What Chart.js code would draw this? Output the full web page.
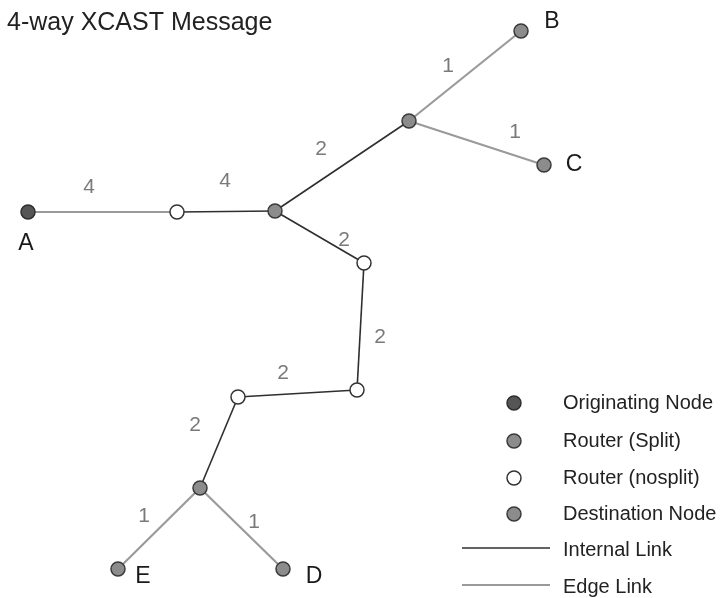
<!DOCTYPE html>
<html>
<head>
<meta charset="utf-8">
<script src="https://cdn.jsdelivr.net/npm/chart.js@4.4.1/dist/chart.umd.min.js"></script>
<style>
  html, body { margin: 0; padding: 0; background: #ffffff; }
  #wrap { width: 724px; height: 598px; }
</style>
</head>
<body>
<div id="wrap"><canvas id="c" width="724" height="598"></canvas></div>
<script>
// ---- Data ----
const titleText = '4-way XCAST Message';

// Nodes
const nodeIds   = ['A', 'R1', 'S1', 'S2', 'B', 'C', 'N2', 'N3', 'N4', 'S3', 'E', 'D'];
const nodeX     = [28, 177, 275, 409, 521, 544, 364, 357, 238, 200, 118, 283];
const nodeY     = [212, 212, 211, 121, 31, 165, 263, 390, 397, 488, 569, 569];
const nodeType  = ['orig', 'nosplit', 'split', 'split', 'dest', 'dest', 'nosplit', 'nosplit', 'nosplit', 'split', 'dest', 'dest'];

// Node name labels
const nodeLabels  = ['A', 'B', 'C', 'D', 'E'];
const nodeLabelX  = [26, 552, 574, 314, 143];
const nodeLabelY  = [244, 22, 165, 577, 577];

// Links
const linkFrom   = ['A', 'R1', 'S1', 'S2', 'S2', 'S1', 'N2', 'N3', 'N4', 'S3', 'S3'];
const linkTo     = ['R1', 'S1', 'S2', 'B', 'C', 'N2', 'N3', 'N4', 'S3', 'E', 'D'];
const linkType   = ['edge', 'internal', 'internal', 'edge', 'edge', 'internal', 'internal', 'internal', 'internal', 'edge', 'edge'];
const linkWeight = [4, 4, 2, 1, 1, 2, 2, 2, 2, 1, 1];
const weightX    = [89, 225, 321, 448, 515, 344, 380, 283, 195, 144, 254];
const weightY    = [187, 181, 149, 66, 132, 240, 337, 373, 425, 516, 522];

// Legend
const legendNodeTypes  = ['orig', 'split', 'nosplit', 'dest'];
const legendNodeLabels = ['Originating Node', 'Router (Split)', 'Router (nosplit)', 'Destination Node'];
const legendLinkTypes  = ['internal', 'edge'];
const legendLinkLabels = ['Internal Link', 'Edge Link'];

// ---- Styles ----
const FONT = '"Liberation Sans", Arial, Helvetica, sans-serif';
const nodeStyle = {
  orig:    { fill: '#555555', stroke: '#2e2e2e' },
  split:   { fill: '#8c8c8c', stroke: '#3a3a3a' },
  nosplit: { fill: '#ffffff', stroke: '#333333' },
  dest:    { fill: '#8c8c8c', stroke: '#3a3a3a' }
};
const linkStyle = {
  internal: { color: '#2f2f2f', width: 1.6 },
  edge:     { color: '#9a9a9a', width: 2.2 }
};

// ---- Build datasets ----
const idx = id => nodeIds.indexOf(id);
const datasets = [];

['orig', 'split', 'nosplit', 'dest'].forEach(t => {
  const pts = [];
  nodeIds.forEach((id, i) => { if (nodeType[i] === t) pts.push({ x: nodeX[i], y: nodeY[i] }); });
  datasets.push({
    type: 'scatter',
    label: t,
    data: pts,
    order: 0,
    pointRadius: 7,
    pointHoverRadius: 7,
    pointBackgroundColor: nodeStyle[t].fill,
    pointBorderColor: nodeStyle[t].stroke,
    pointBorderWidth: 1.5,
    showLine: false
  });
});

linkFrom.forEach((f, i) => {
  const a = idx(f), b = idx(linkTo[i]);
  datasets.push({
    type: 'scatter',
    label: 'link' + i,
    data: [{ x: nodeX[a], y: nodeY[a] }, { x: nodeX[b], y: nodeY[b] }],
    order: 1,
    showLine: true,
    borderColor: linkStyle[linkType[i]].color,
    borderWidth: linkStyle[linkType[i]].width,
    pointRadius: 0,
    pointHoverRadius: 0,
    fill: false
  });
});

// ---- Text & legend plugin ----
const textPlugin = {
  id: 'textPlugin',
  afterDraw(chart) {
    const ctx = chart.ctx;
    const xs = chart.scales.x, ys = chart.scales.y;
    ctx.save();
    // title
    ctx.fillStyle = '#222222';
    ctx.font = '25px ' + FONT;
    ctx.textAlign = 'left';
    ctx.textBaseline = 'middle';
    ctx.fillText(titleText, 7, 23);

    // weights
    ctx.fillStyle = '#7a7a7a';
    ctx.font = '21px ' + FONT;
    ctx.textAlign = 'center';
    linkWeight.forEach((w, i) => {
      ctx.fillText(String(w), xs.getPixelForValue(weightX[i]), ys.getPixelForValue(weightY[i]));
    });

    // node names
    ctx.fillStyle = '#1a1a1a';
    ctx.font = '23px ' + FONT;
    nodeLabels.forEach((l, i) => {
      ctx.fillText(l, xs.getPixelForValue(nodeLabelX[i]), ys.getPixelForValue(nodeLabelY[i]));
    });

    // legend
    const lx = 514, tx = 563;
    const rowY = [403, 441, 478, 514, 550, 587];
    ctx.font = '20px ' + FONT;
    ctx.textAlign = 'left';
    legendNodeTypes.forEach((t, i) => {
      ctx.beginPath();
      ctx.arc(lx, rowY[i], 7, 0, Math.PI * 2);
      ctx.fillStyle = nodeStyle[t].fill;
      ctx.fill();
      ctx.lineWidth = 1.5;
      ctx.strokeStyle = nodeStyle[t].stroke;
      ctx.stroke();
      ctx.fillStyle = '#222222';
      ctx.fillText(legendNodeLabels[i], tx, rowY[i]);
    });
    legendLinkTypes.forEach((t, j) => {
      const y = rowY[4 + j];
      ctx.beginPath();
      ctx.moveTo(462, y - 2);
      ctx.lineTo(550, y - 2);
      ctx.strokeStyle = linkStyle[t].color;
      ctx.lineWidth = linkStyle[t].width;
      ctx.stroke();
      ctx.fillStyle = '#222222';
      ctx.fillText(legendLinkLabels[j], tx, y);
    });
    ctx.restore();
  }
};

new Chart(document.getElementById('c'), {
  type: 'scatter',
  data: { datasets },
  options: {
    responsive: false,
    animation: false,
    devicePixelRatio: 1,
    layout: { padding: 0, autoPadding: false },
    plugins: { legend: { display: false }, tooltip: { enabled: false }, title: { display: false } },
    events: [],
    scales: {
      x: { type: 'linear', min: 0, max: 724, display: false },
      y: { type: 'linear', min: 0, max: 598, reverse: true, display: false }
    }
  },
  plugins: [textPlugin]
});
</script>
</body>
</html>
